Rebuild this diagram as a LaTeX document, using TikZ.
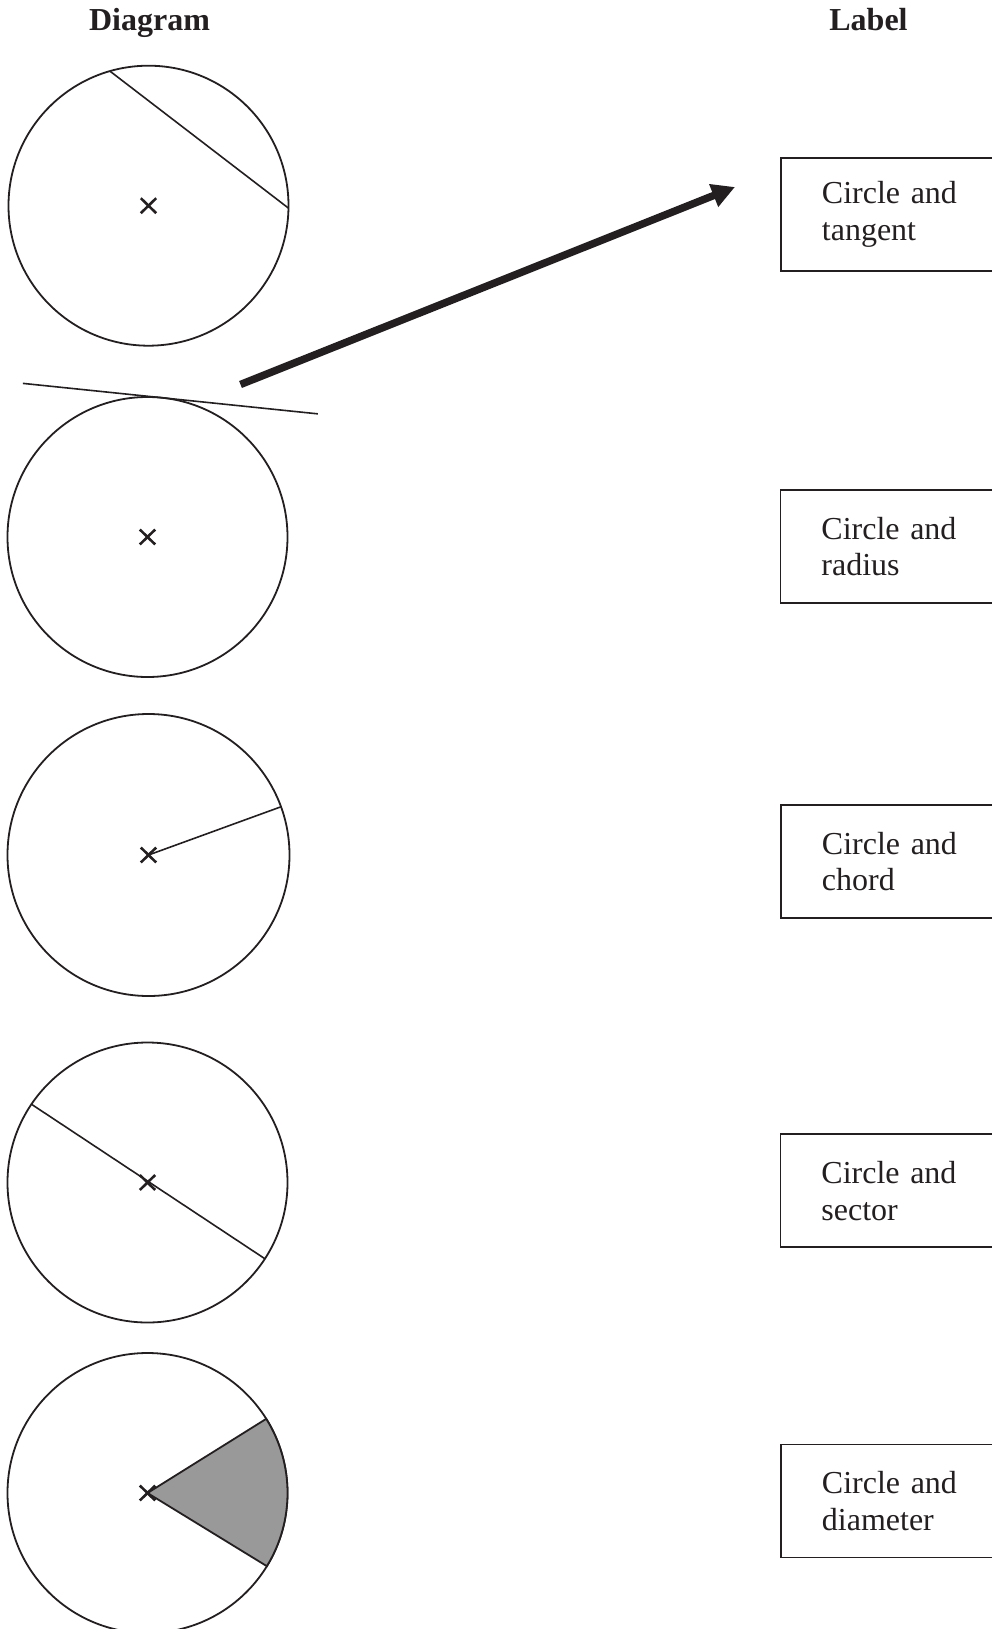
\documentclass[tikz,border=0pt]{standalone}
\usepackage{fontspec}
\setmainfont{Liberation Serif}
\definecolor{inkBlack}{RGB}{35,31,32}
\definecolor{sectorGray}{RGB}{153,153,153}
\usepackage{tikz}
\usetikzlibrary{arrows.meta,positioning}

\begin{document}
\begin{tikzpicture}[x=1pt,y=1pt,
    circ/.style={draw=inkBlack,circle,line width=1.8pt,minimum size=280pt,inner sep=0pt,outer sep=0pt},
    labelBox/.style={draw=inkBlack,text=inkBlack,rectangle,line width=1.8pt,anchor=west,
        minimum height=113pt,text width=160pt,inner xsep=41pt,align=left,
        font=\fontsize{32}{36.7}\selectfont},
    head/.style={anchor=base,text=inkBlack,font=\fontsize{32}{36}\selectfont\bfseries},
    thinLine/.style={draw=inkBlack,line width=1.6pt},
    crossMark/.style={draw=inkBlack,line width=2.6pt}]
                \useasboundingbox (0,0) rectangle (991,-1629);

                \node[head] (hDiag) at (149.5,-31) {Diagram};
                \node[head] (hLabel) at (868.5,-31) {Label};

                \node[circ] (c1) at (148.5,-205.7) {};
                \node[circ] (c2) at (147.5,-537) {};
                \node[circ,minimum size=282pt] (c3) at (148.5,-855) {};
                \node[circ] (c4) at (147.5,-1182.5) {};
                \node[circ] (c5) at (147.5,-1493) {};

                \draw[thinLine] (c1.106.8) -- (c1.-1.3);
                \draw[thinLine] (c2.84.1) ++(174.1:140) -- ++(-5.9:296.6);
                \draw[thinLine] (c3.center) -- (c3.20.5);
                \draw[thinLine] (c4.146.5) -- (c4.-33.5);
                \filldraw[fill=sectorGray,draw=inkBlack,line width=1.8pt] (c5.center) -- (c5.32)
                    arc[start angle=32,end angle=-31.5,radius=140pt] -- cycle;

                \foreach \c in {c1,c2,c3,c4,c5} {
                    \draw[crossMark] ([shift={(-7.7,-7.5)}]\c.center) -- ([shift={(7.7,7.5)}]\c.center);
                    \draw[crossMark] ([shift={(-7.7,7.5)}]\c.center) -- ([shift={(7.7,-7.5)}]\c.center);
                }

                \node[labelBox] (lbl1) at (780,-214.5) {Circle and\\tangent};
                \node[labelBox] (lbl2) at (779.5,-546.7) {Circle and\\radius};
                \node[labelBox] (lbl3) at (780,-861.5) {Circle and\\chord};
                \node[labelBox] (lbl4) at (779.5,-1190.8) {Circle and\\sector};
                \node[labelBox] (lbl5) at (780,-1501) {Circle and\\diameter};

                \coordinate (arrFrom) at (240.5,-384.5);
                \coordinate (arrTo) at (735,-187);
                \draw[draw=inkBlack,fill=inkBlack,line width=7.5pt,-{Triangle[length=23pt,width=23pt]}] (arrFrom) -- (arrTo);

            \end{tikzpicture}
\end{document}
